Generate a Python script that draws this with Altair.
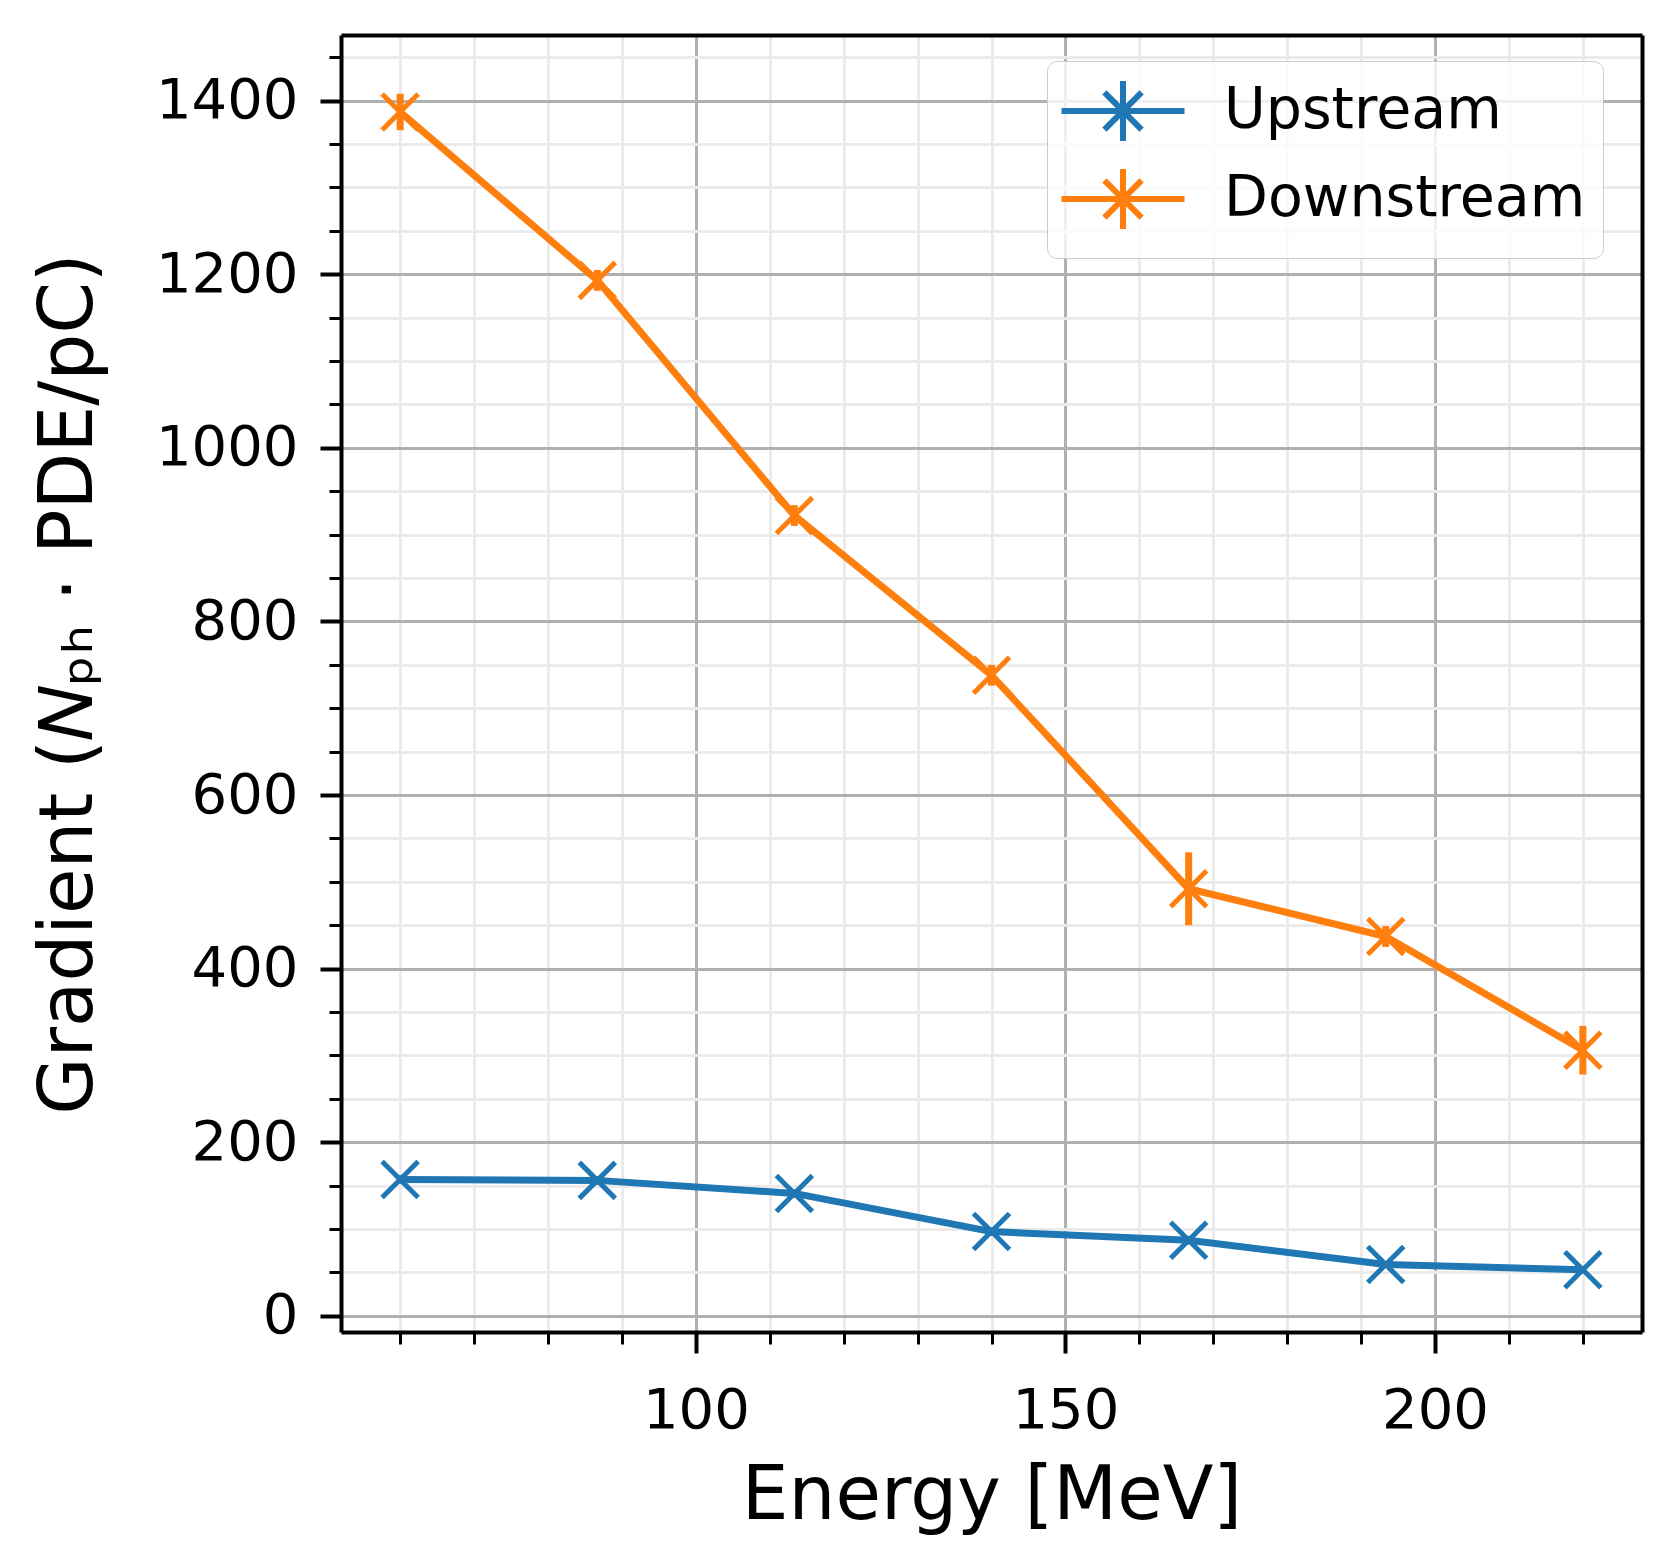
import altair as alt
import pandas as pd

# ---- data ----
energy = [60.0, 86.67, 113.33, 140.0, 166.67, 193.33, 220.0]
upstream = [157, 156, 141, 97, 87, 59, 53]
upstream_err = [5, 5, 5, 5, 5, 4, 4]
downstream = [1387, 1193, 922, 738, 492, 437, 306]
downstream_err = [21, 12, 12, 12, 42, 12, 28]
series_names = ["Upstream", "Downstream"]
series_colors = ["#1f77b4", "#ff7f0e"]

x_major = [100, 150, 200]
x_minor = [v for v in range(60, 230, 10) if v not in x_major]
y_major = list(range(0, 1401, 200))
y_minor = [v for v in range(50, 1451, 50) if v not in y_major]

rows = []
for name, vals, errs in [("Upstream", upstream, upstream_err),
                         ("Downstream", downstream, downstream_err)]:
    for e, v, er in zip(energy, vals, errs):
        rows.append({"energy": e, "value": v, "lo": v - er, "hi": v + er, "series": name})
df = pd.DataFrame(rows)

FONT = "DejaVu Sans"
X_MARK = "M-1,-1L1,1M-1,1L1,-1"
LEG_SYM = "M-2.05,0L2.05,0M0,-1L0,1M-0.62,-0.62L0.62,0.62M-0.62,0.62L0.62,-0.62"

xdom = [52, 228]
ydom = [-18.7, 1475.7]

legend = alt.Legend(
    title=None, orient="none", legendX=706, legendY=26,
    symbolType=LEG_SYM, symbolSize=3600, symbolStrokeWidth=6, symbolOffset=26,
    labelFontSize=57, labelFont=FONT, labelColor="black",
    labelOffset=68, rowPadding=4, padding=17,
    fillColor="rgba(255,255,255,0.8)", strokeColor="#cccccc",
    cornerRadius=10, labelLimit=1000,
)
color = alt.Color("series:N", scale=alt.Scale(domain=series_names, range=series_colors),
                  sort=series_names, legend=legend)

base = alt.Chart(df)

minor_x_axis = alt.Axis(values=x_minor, orient="bottom", labels=False, title=None, domain=False,
                        tickSize=12, tickWidth=3, tickColor="black",
                        grid=True, gridColor="#ebebeb", gridWidth=3)
minor_y_axis = alt.Axis(values=y_minor, orient="left", labels=False, title=None, domain=False,
                        tickSize=12, tickWidth=3, tickColor="black",
                        grid=True, gridColor="#ebebeb", gridWidth=3)

major_x_axis = alt.Axis(values=x_major, orient="bottom", format="d",
                        tickSize=21, tickWidth=4, tickColor="black",
                        grid=True, gridColor="#b0b0b0", gridWidth=3,
                        labelFontSize=56, labelFont=FONT, labelColor="black", labelPadding=30,
                        domain=True, domainColor="black", domainWidth=4,
                        title="Energy [MeV]", titleFontSize=74, titleFont=FONT,
                        titleFontWeight="normal", titleColor="black",
                        titleBaseline="alphabetic", titleY=186)
major_y_axis = alt.Axis(values=y_major, orient="left", format="d",
                        tickSize=21, tickWidth=4, tickColor="black",
                        grid=True, gridColor="#b0b0b0", gridWidth=3,
                        labelFontSize=56, labelFont=FONT, labelColor="black", labelPadding=22,
                        domain=True, domainColor="black", domainWidth=4,
                        title="Gradient (𝑁ₚₕ · PDE/pC)", titleFontSize=74, titleFont=FONT,
                        titleFontWeight="normal", titleColor="black",
                        titleBaseline="middle", titleX=-272)

frame_x_axis = alt.Axis(orient="top", labels=False, ticks=False, grid=False, title=None,
                        domain=True, domainColor="black", domainWidth=4)
frame_y_axis = alt.Axis(orient="right", labels=False, ticks=False, grid=False, title=None,
                        domain=True, domainColor="black", domainWidth=4)

xs = alt.Scale(domain=xdom, nice=False, zero=False)
ys = alt.Scale(domain=ydom, nice=False, zero=False)

lines = base.mark_line(strokeWidth=7, strokeJoin="round").encode(
    x=alt.X("energy:Q", scale=xs, axis=minor_x_axis),
    y=alt.Y("value:Q", scale=ys, axis=minor_y_axis),
    color=color,
    detail="series:N",
)

bars = base.mark_rule(strokeWidth=7).encode(
    x=alt.X("energy:Q", scale=xs, axis=major_x_axis),
    y=alt.Y("lo:Q", scale=ys, axis=major_y_axis),
    y2="hi:Q",
    color=color,
)

points = base.mark_point(shape=X_MARK, filled=False, strokeWidth=5, size=1296, opacity=1).encode(
    x=alt.X("energy:Q", scale=xs, axis=frame_x_axis),
    y=alt.Y("value:Q", scale=ys, axis=frame_y_axis),
    color=color,
)

chart = alt.layer(lines, bars, points).resolve_axis(
    x="independent", y="independent"
).properties(
    width=1301, height=1297,
    autosize=alt.AutoSizeParams(type="none"),
    padding={"left": 333, "top": 27, "right": 30, "bottom": 220},
    background="white",
).configure_view(
    stroke="black", strokeWidth=4
).configure_legend(
    strokeWidth=3
).configure(font=FONT)

chart.save("out.html", embed_options={"renderer": "svg", "actions": False})
